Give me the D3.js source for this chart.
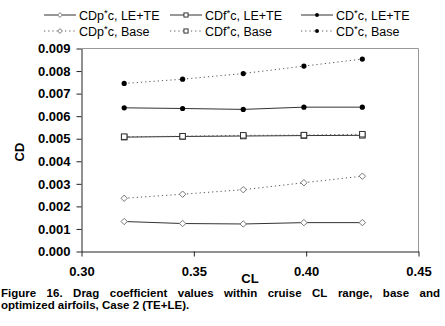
<!DOCTYPE html>
<html>
<head>
<meta charset="utf-8">
<script src="https://cdn.jsdelivr.net/npm/d3@7/dist/d3.min.js"></script>
<style>
  html, body { margin: 0; padding: 0; background: #fff; }
  svg { display: block; font-family: Arial, "Liberation Sans", sans-serif; }
</style>
</head>
<body>
<svg id="chart" width="445" height="326"></svg>
<script>
// Cruise lift coefficients
const cl = [0.319, 0.345, 0.372, 0.399, 0.425];

// Drag components (times chord), optimized LE+TE airfoil
const cdpOpt = [0.00133, 0.00124, 0.00122, 0.00128, 0.00128];
const cdfOpt = [0.00507, 0.00510, 0.00512, 0.00514, 0.00515];
const cdOpt  = [0.00637, 0.00634, 0.00630, 0.00640, 0.00640];

// Drag components (times chord), base airfoil
const cdpBase = [0.00236, 0.00254, 0.00274, 0.00305, 0.00334];
const cdfBase = [0.00509, 0.00511, 0.00515, 0.00516, 0.00520];
const cdBase  = [0.00745, 0.00764, 0.00789, 0.00822, 0.00853];

const xTicks = [0.30, 0.35, 0.40, 0.45];
const yTicks = [0, 0.001, 0.002, 0.003, 0.004, 0.005, 0.006, 0.007, 0.008, 0.009];

const seriesNames = ["CDp", "CDf", "CD"];
const captionLines = [
  "Figure 16. Drag coefficient values within cruise CL range, base and",
  "optimized airfoils, Case 2 (TE+LE)."
];

const svg = d3.select("#chart");
const plot = { left: 81.5, right: 418.5, top: 48.5, bottom: 251.5 };

const x = d3.scaleLinear().domain([0.30, 0.45]).range([plot.left, plot.right]);
const y = d3.scaleLinear().domain([0, 0.009]).range([plot.bottom, plot.top]);

// plot frame (top and right edges)
svg.append("path")
  .attr("d", `M${plot.left},${plot.top}H${plot.right}V${plot.bottom}`)
  .attr("fill", "none").attr("stroke", "#999").attr("stroke-width", 1);

// axes
const xAxis = svg.append("g")
  .attr("transform", `translate(0,${plot.bottom})`)
  .call(d3.axisBottom(x).tickValues(xTicks).tickFormat(d3.format(".2f")).tickSize(5).tickSizeOuter(0));
const yAxis = svg.append("g")
  .attr("transform", `translate(${plot.left},0)`)
  .call(d3.axisLeft(y).tickValues(yTicks).tickFormat(d3.format(".3f")).tickSize(5).tickSizeOuter(0));

[xAxis, yAxis].forEach(g => {
  g.select(".domain").attr("stroke", "#222");
  g.selectAll(".tick line").attr("stroke", "#222");
  g.selectAll(".tick text")
    .attr("font-family", "Arial, 'Liberation Sans', sans-serif")
    .attr("font-size", 13).attr("font-weight", "bold").attr("fill", "#000");
});
xAxis.selectAll(".tick text").attr("dy", "0").attr("y", 24);
yAxis.selectAll(".tick text").attr("x", -11);

// axis titles
svg.append("text").attr("x", 250).attr("y", 283)
  .attr("text-anchor", "middle").attr("font-size", 13).attr("font-weight", "bold").text("CL");
svg.append("text").attr("transform", "translate(24,152) rotate(-90)")
  .attr("text-anchor", "middle").attr("font-size", 13).attr("font-weight", "bold").text("CD");

// series definitions
const series = [
  { name: seriesNames[0], tag: "LE+TE", values: cdpOpt,  dotted: false, marker: "diamond" },
  { name: seriesNames[1], tag: "LE+TE", values: cdfOpt,  dotted: false, marker: "square" },
  { name: seriesNames[2], tag: "LE+TE", values: cdOpt,   dotted: false, marker: "circle" },
  { name: seriesNames[0], tag: "Base",  values: cdpBase, dotted: true,  marker: "diamond" },
  { name: seriesNames[1], tag: "Base",  values: cdfBase, dotted: true,  marker: "square" },
  { name: seriesNames[2], tag: "Base",  values: cdBase,  dotted: true,  marker: "circle" }
];

function lineStyle(sel, s) {
  sel.attr("fill", "none")
    .attr("stroke", s.dotted ? "#555" : "#333")
    .attr("stroke-width", 1)
    .attr("stroke-dasharray", s.dotted ? "1.2,3" : null);
}

function drawMarker(g, type, cx, cy, scale) {
  const k = scale || 1;
  if (type === "circle") {
    g.append("circle").attr("cx", cx).attr("cy", cy).attr("r", 2.6 * k).attr("fill", "#000");
  } else if (type === "square") {
    const s = 5.5 * k;
    g.append("rect").attr("x", cx - s / 2).attr("y", cy - s / 2).attr("width", s).attr("height", s)
      .attr("fill", "#fff").attr("stroke", "#333").attr("stroke-width", 1);
  } else {
    const r = 3.2 * k;
    g.append("path").attr("d", `M${cx},${cy - r}L${cx + r},${cy}L${cx},${cy + r}L${cx - r},${cy}Z`)
      .attr("fill", "#fff").attr("stroke", "#777").attr("stroke-width", 1);
  }
}

const line = d3.line().x(d => x(d[0])).y(d => y(d[1]));
series.forEach(s => {
  const pts = cl.map((c, i) => [c, s.values[i]]);
  svg.append("path").attr("d", line(pts)).call(lineStyle, s);
});
series.forEach(s => {
  const g = svg.append("g");
  cl.forEach((c, i) => drawMarker(g, s.marker, x(c), y(s.values[i])));
});

// legend
const legendCols = [44, 170, 301];
const legendRows = [15, 31];
series.forEach((s, i) => {
  const col = i % 3, row = Math.floor(i / 3);
  const lx = legendCols[col], ly = legendRows[row];
  const g = svg.append("g");
  g.append("line").attr("x1", lx).attr("x2", lx + 32).attr("y1", ly).attr("y2", ly).call(lineStyle, s);
  drawMarker(g, s.marker, lx + 16, ly, 0.75);
  const t = g.append("text").attr("x", lx + 35).attr("y", ly + 4.5).attr("font-size", 12.5).attr("fill", "#000");
  t.append("tspan").text(s.name);
  t.append("tspan").attr("dy", -4).attr("font-size", 9.5).text("*");
  t.append("tspan").attr("dy", 4).text("c, " + s.tag);
});

// caption: first line justified across the width, second line left-aligned
const capSize = 11.5;
const capLeft = 1, capRight = 440;
captionLines.forEach((txt, li) => {
  const cy = 297 + li * 12;
  if (li === 0) {
    const words = txt.split(" ");
    const tmp = words.map(w => svg.append("text").attr("font-size", capSize).attr("font-weight", "bold").attr("y", cy).text(w));
    const widths = tmp.map(t => t.node().getComputedTextLength());
    const total = d3.sum(widths);
    const gap = (capRight - capLeft - total) / (words.length - 1);
    let cx = capLeft;
    tmp.forEach((t, i) => { t.attr("x", cx); cx += widths[i] + gap; });
  } else {
    svg.append("text").attr("x", capLeft).attr("y", cy)
      .attr("font-size", capSize).attr("font-weight", "bold").text(txt);
  }
});
</script>
</body>
</html>
